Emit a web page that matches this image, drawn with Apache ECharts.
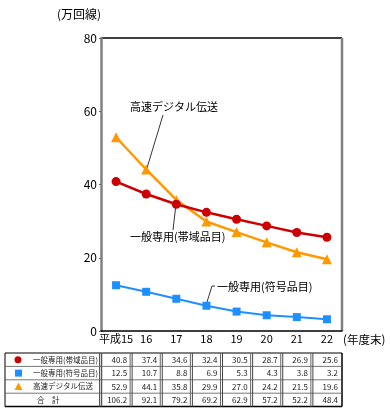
<!DOCTYPE html>
<html><head><meta charset="utf-8">
<script src="https://cdn.jsdelivr.net/npm/echarts@6/dist/echarts.min.js"></script>
<style>html,body{margin:0;padding:0;background:#fff}#c{width:390px;height:412px}</style>
</head><body><div id="c"></div>
<script>
const categories = ['平成15','16','17','18','19','20','21','22'];
const seriesNames = ['一般専用(帯域品目)','一般専用(符号品目)','高速デジタル伝送'];
const bandData = [40.8, 37.4, 34.6, 32.4, 30.5, 28.7, 26.9, 25.6];
const codeData = [12.5, 10.7, 8.8, 6.9, 5.3, 4.3, 3.8, 3.2];
const digitalData = [52.9, 44.1, 35.8, 29.9, 27.0, 24.2, 21.5, 19.6];
const totalData = [106.2, 92.1, 79.2, 69.2, 62.9, 57.2, 52.2, 48.4];
const totalLabel = '合　計';
const yTicks = [0, 20, 40, 60, 80];

const FONT = '"Noto Sans CJK JP", sans-serif';
const colors = ['#cc0000', '#1e8fff', '#ff9900'];
const chart = echarts.init(document.getElementById('c'));
const gridL = 101, gridR = 48, gridT = 38, gridB = 81;
chart.setOption({
  animation: false,
  grid: { left: gridL, right: gridR, top: gridT, bottom: gridB, show: false },
  xAxis: {
    type: 'category', data: categories, boundaryGap: true,
    axisLine: { lineStyle: { color: '#000', width: 1.5 } },
    axisTick: { inside: true, length: 6, lineStyle: { color: '#000' } },
    axisLabel: { color: '#000', fontSize: 11, fontFamily: FONT, margin: 2, interval: 0, hideOverlap: false }
  },
  yAxis: {
    type: 'value', min: 0, max: 80, interval: 20,
    axisLine: { show: true, lineStyle: { color: '#808080', width: 2.5 } },
    axisTick: { show: true, length: 2, lineStyle: { color: '#666' } },
    splitLine: { show: false },
    axisLabel: { color: '#000', fontSize: 12, fontFamily: FONT, margin: 4,
      formatter: v => yTicks.includes(v) ? String(v) : '' }
  },
  series: [
    { name: seriesNames[0], type: 'line', data: bandData, symbol: 'circle', symbolSize: 9,
      itemStyle: { color: colors[0] }, lineStyle: { color: colors[0], width: 2.5 }, z: 3 },
    { name: seriesNames[1], type: 'line', data: codeData, symbol: 'rect', symbolSize: 8,
      itemStyle: { color: colors[1] }, lineStyle: { color: colors[1], width: 2 }, z: 3 },
    { name: seriesNames[2], type: 'line', data: digitalData, symbol: 'triangle', symbolSize: 10,
      itemStyle: { color: colors[2] }, lineStyle: { color: colors[2], width: 2.5 }, z: 2 }
  ]
});

function build() {
  const W = 390, H = 412;
  const x0 = gridL, x1 = W - gridR, y0 = gridT, y1 = H - gridB;
  const g = [];
  g.push({ type: 'line', shape: { x1: x0, y1: y0, x2: x1, y2: y0 }, style: { stroke: '#000', lineWidth: 1.5 } });
  g.push({ type: 'line', shape: { x1: x1, y1: y0, x2: x1, y2: y1 }, style: { stroke: '#808080', lineWidth: 2.5 } });
  g.push({ type: 'text', x: 57, y: 14, style: { text: '(万回線)', font: '12px ' + FONT, fill: '#000', textVerticalAlign: 'middle' } });
  g.push({ type: 'text', x: 343, y: 340, style: { text: '(年度末)', font: '11.5px ' + FONT, fill: '#000', textVerticalAlign: 'middle' } });
  const ann = [
    { t: seriesNames[2], tx: 130, ty: 107, p: [[163, 115], [147, 168]] },
    { t: seriesNames[0], tx: 130, ty: 237, p: [[173, 230], [176, 204]] },
    { t: seriesNames[1], tx: 217, ty: 287, p: [[215, 286], [212, 286], [207, 302]] }
  ];
  ann.forEach(a => {
    g.push({ type: 'text', x: a.tx, y: a.ty, style: { text: a.t, font: '11px ' + FONT, fill: '#000', textVerticalAlign: 'middle' } });
    g.push({ type: 'polyline', shape: { points: a.p }, style: { stroke: '#000', lineWidth: 0.8, fill: null } });
  });
  const tTop = 353, rowH = 13.4, tLeft = 5;
  const rows = [bandData, codeData, digitalData, totalData];
  const labels = [seriesNames[0], seriesNames[1], seriesNames[2], totalLabel];
  const centers = categories.map((c, i) => chart.convertToPixel({ xAxisIndex: 0 }, i));
  const half = (centers[1] - centers[0]) / 2;
  const tRight = centers[centers.length - 1] + half;
  const tBottom = tTop + rowH * rows.length;
  const ln = (ax, ay, bx, by, w, c) => g.push({ type: 'line', shape: { x1: ax, y1: ay, x2: bx, y2: by }, style: { stroke: c || '#333', lineWidth: w || 1 } });
  ln(tLeft, tTop, tRight, tTop, 1, '#000');
  ln(tLeft, tBottom, tRight, tBottom, 1.5, '#000');
  ln(tLeft, tTop, tLeft, tBottom, 1, '#000');
  ln(tRight, tTop, tRight, tBottom, 1.5, '#000');
  for (let r = 1; r < rows.length; r++) ln(tLeft, tTop + r * rowH, tRight, tTop + r * rowH, 0.8, '#555');
  const labelRight = centers[0] - half;
  ln(labelRight - 1.5, tTop, labelRight - 1.5, tBottom, 1, '#555');
  ln(labelRight + 0.5, tTop, labelRight + 0.5, tBottom, 1.5, '#555');
  for (let i = 1; i < centers.length; i++) {
    ln(centers[i] - half - 1, tTop, centers[i] - half - 1, tBottom, 1, '#666');
    ln(centers[i] - half + 1, tTop, centers[i] - half + 1, tBottom, 1, '#444');
  }
  rows.forEach((vals, r) => {
    const cy = tTop + rowH * (r + 0.5);
    vals.forEach((v, i) => {
      g.push({ type: 'text', x: centers[i] + half - 4, y: cy, style: { text: v.toFixed(1), font: '8px ' + FONT, fill: '#222', textAlign: 'right', textVerticalAlign: 'middle' } });
    });
    g.push({ type: 'text', x: r < 3 ? 33 : 37, y: cy, style: { text: labels[r], font: '7.5px ' + FONT, fill: '#222', textVerticalAlign: 'middle' } });
  });
  const my = r => tTop + rowH * (r + 0.5);
  g.push({ type: 'circle', shape: { cx: 18, cy: my(0), r: 3.5 }, style: { fill: colors[0] } });
  g.push({ type: 'rect', shape: { x: 15, y: my(1) - 3.5, width: 7, height: 7 }, style: { fill: colors[1] } });
  g.push({ type: 'polygon', shape: { points: [[18.5, my(2) - 4], [22.5, my(2) + 3.5], [14.5, my(2) + 3.5]] }, style: { fill: colors[2] } });
  chart.setOption({ graphic: g });
}
build();
</script>
</body></html>
